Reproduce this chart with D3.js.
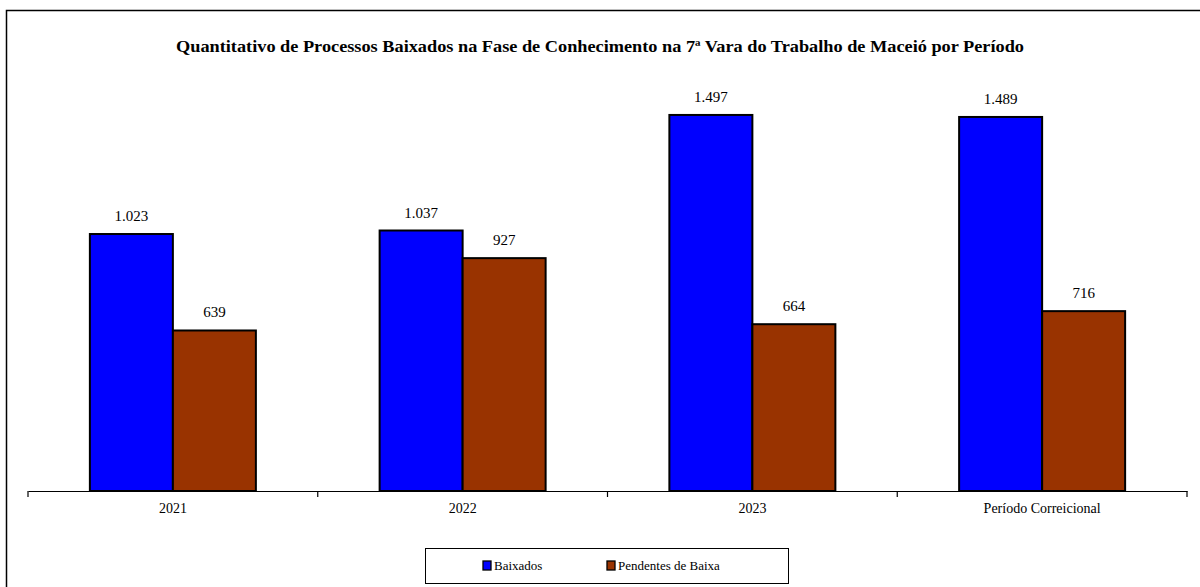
<!DOCTYPE html>
<html><head><meta charset="utf-8">
<script src="https://cdn.jsdelivr.net/npm/d3@7"></script>
<style>body{margin:0;background:#fff}svg{display:block}svg text{font-family:"Liberation Serif","Times New Roman","DejaVu Serif",serif !important;fill:#000}</style>
</head><body><svg id="c" width="1200" height="587"></svg>
<script>
const categories = ["2021", "2022", "2023", "Período Correicional"];
const seriesNames = ["Baixados", "Pendentes de Baixa"];
const baixados = [1023, 1037, 1497, 1489];
const pendentes = [639, 927, 664, 716];
const colors = ["#0000FF", "#993300"];
const title = "Quantitativo de Processos Baixados na Fase de Conhecimento na 7ª Vara do Trabalho de Maceió por Período";
const fmt = v => d3.format(",")(v).replace(/,/g, ".");
const FONT = "'Liberation Serif','Times New Roman','DejaVu Serif',serif";

const svg = d3.select("#c");
svg.append("rect").attr("x",6.5).attr("y",10.5).attr("width",1250).attr("height",650)
  .attr("fill","none").attr("stroke","#000").attr("stroke-width",1.5);

svg.append("text").attr("x",600).attr("y",52).attr("text-anchor","middle")
  .style("font-family",FONT).attr("font-size",16).attr("font-weight","bold")
  .attr("textLength",848).attr("lengthAdjust","spacingAndGlyphs").text(title);

const x = d3.scaleBand().domain(categories).range([28,1187]).paddingInner(0).paddingOuter(0);
const xs = d3.scaleBand().domain(seriesNames).range([0,166]);
const y = d3.scaleLinear().domain([0,1600]).range([491,491-0.2512*1600]);
const off = (x.bandwidth()-166)/2;

const data = categories.map((c,i)=>({c, vals:[baixados[i], pendentes[i]]}));
const g = svg.append("g");
data.forEach(d=>{
  d.vals.forEach((v,j)=>{
    const bx = x(d.c)+off+xs(seriesNames[j]);
    g.append("rect").attr("x",bx).attr("y",y(v)).attr("width",xs.bandwidth()).attr("height",y(0)-y(v))
      .attr("fill",colors[j]).attr("stroke","#000").attr("stroke-width",2);
    g.append("text").attr("x",bx+xs.bandwidth()/2).attr("y",y(v)-13).attr("text-anchor","middle")
      .style("font-family",FONT).attr("font-size",15).text(fmt(v));
  });
});

const axis = d3.axisBottom(x).tickSize(0).tickPadding(12);
const ax = svg.append("g").attr("transform","translate(0,491)").call(axis);
ax.select(".domain").attr("stroke","#000").attr("stroke-width",1.2);
ax.selectAll("text").attr("font-size",14).style("font-family",FONT).attr("fill","#000");
svg.append("g").selectAll("line").data([28, ...categories.map(c=>x(c)+x.bandwidth())]).join("line")
  .attr("x1",d=>d).attr("x2",d=>d).attr("y1",491).attr("y2",497).attr("stroke","#000").attr("stroke-width",1.2);

const lg = svg.append("g");
lg.append("rect").attr("x",425.5).attr("y",548.5).attr("width",363).attr("height",35)
  .attr("fill","#fff").attr("stroke","#000").attr("stroke-width",1);
const lx = [483, 607];
seriesNames.forEach((n,i)=>{
  lg.append("rect").attr("x",lx[i]).attr("y",561).attr("width",8).attr("height",9)
    .attr("fill",colors[i]).attr("stroke","#000").attr("stroke-width",1.3);
  lg.append("text").attr("x",lx[i]+11).attr("y",570).style("font-family",FONT).attr("font-size",13).text(n);
});
</script></body></html>
